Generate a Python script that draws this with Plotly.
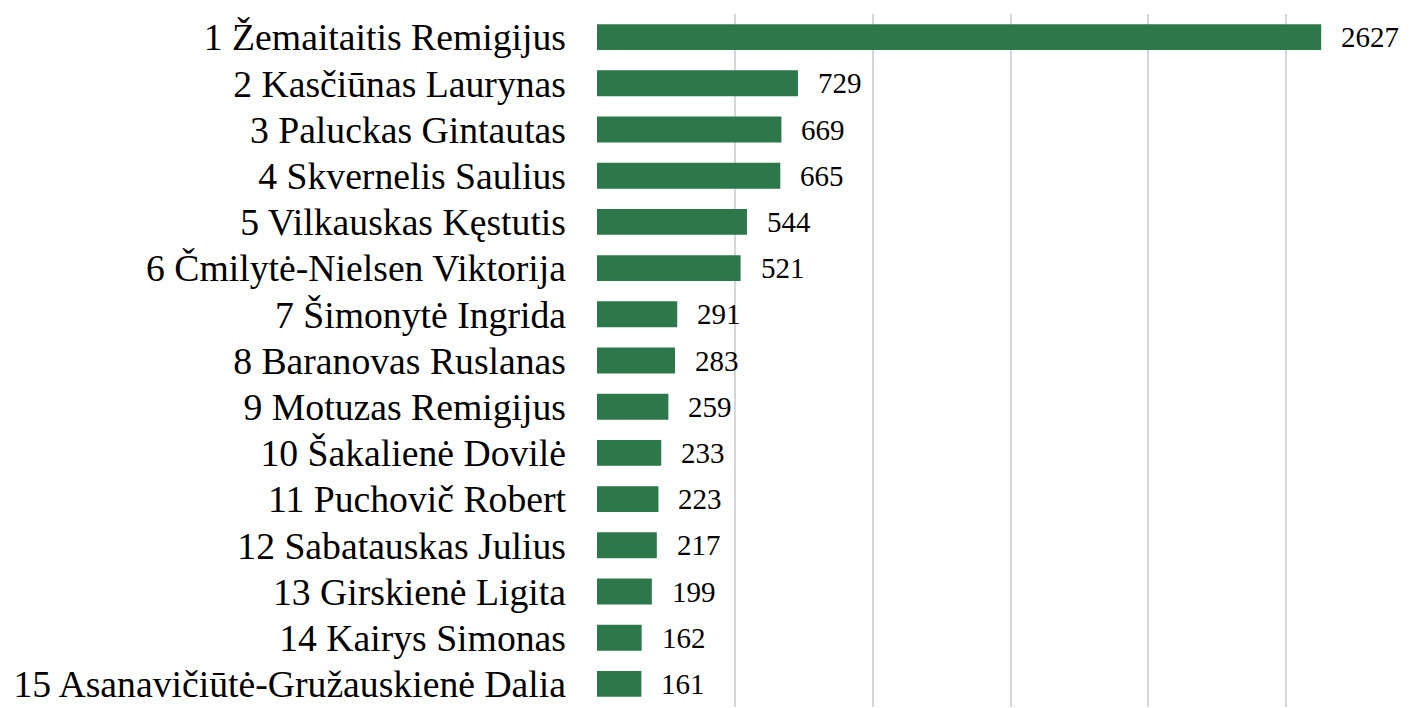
import plotly.graph_objects as go

# candidates, ranked by number of votes
names = [
    "1 Žemaitaitis Remigijus",
    "2 Kasčiūnas Laurynas",
    "3 Paluckas Gintautas",
    "4 Skvernelis Saulius",
    "5 Vilkauskas Kęstutis",
    "6 Čmilytė-Nielsen Viktorija",
    "7 Šimonytė Ingrida",
    "8 Baranovas Ruslanas",
    "9 Motuzas Remigijus",
    "10 Šakalienė Dovilė",
    "11 Puchovič Robert",
    "12 Sabatauskas Julius",
    "13 Girskienė Ligita",
    "14 Kairys Simonas",
    "15 Asanavičiūtė-Gružauskienė Dalia",
]
votes = [2627, 729, 669, 665, 544, 521, 291, 283, 259, 233, 223, 217, 199, 162, 161]
x_ticks = [0, 500, 1000, 1500, 2000, 2500]

SERIF = "Liberation Serif, Times New Roman, serif"
GREEN = "#2d784b"

fig = go.Figure(
    go.Bar(
        x=votes,
        y=names,
        orientation="h",
        marker=dict(color=GREEN, line=dict(width=0)),
        width=0.56,
        hoverinfo="x+y",
    )
)

# value labels sit a little off the bar end
for name, v in zip(names, votes):
    fig.add_annotation(
        x=v, y=name, text=str(v), showarrow=False,
        xanchor="left", yanchor="middle", xshift=18,
        font=dict(family=SERIF, size=29, color="#000000"),
    )

# page body adds 8px, so margins are trimmed to keep the plot area in place
fig.update_layout(
    width=1416,
    height=708,
    margin=dict(l=589, r=0, t=6, b=9),
    plot_bgcolor="white",
    paper_bgcolor="white",
    showlegend=False,
)
fig.update_xaxes(
    range=[0, 3000],
    tickvals=x_ticks,
    showticklabels=False,
    showgrid=True,
    gridcolor="#d6d6d6",
    gridwidth=2,
    zeroline=False,
    showline=False,
    automargin=False,
)
fig.update_yaxes(
    autorange="reversed",
    showgrid=False,
    showline=False,
    ticks="",
    ticklabelstandoff=30,
    automargin=False,
    tickfont=dict(family=SERIF, size=37.7, color="#000000"),
)

fig.write_html("out.html")
